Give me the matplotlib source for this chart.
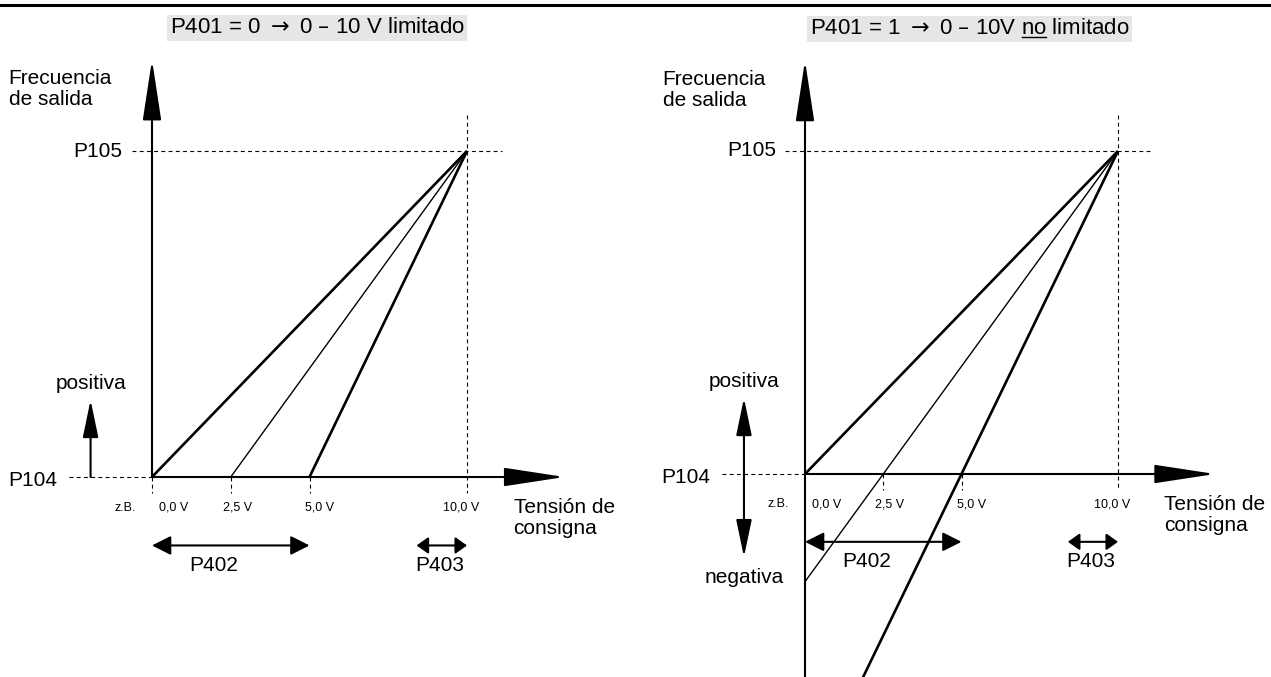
import matplotlib.pyplot as plt
import numpy as np
from matplotlib.lines import Line2D

plt.rcParams['font.family'] = ['Liberation Sans', 'DejaVu Sans']
plt.rcParams['mathtext.fontset'] = 'dejavusans'

# --- datos del esquema (tension en V, frecuencia normalizada: 0 = P104, 1 = P105) ---
offsets = [0.0, 2.5, 5.0]          # ejemplos de P402
v_max = 10.0                        # tension a la que se alcanza P105
tick_volts = [0.0, 2.5, 5.0, 10.0]
tick_labels = ['0,0 V', '2,5 V', '5,0 V', '10,0 V']
p402_span = [0.0, 5.0]
p403_span = [8.4, 10.0]
titles = [r'P401 = 0 $\rightarrow$ 0 – 10 V limitado', r'P401 = 1 $\rightarrow$ 0 – 10V no limitado']

# estilo
line_lw = [1.9, 1.0, 1.9]
label_dx = [0.7, 0.21, 0.33, -0.2]
W, H = 1271, 677
FS = 15
dash = (0, (3.5, 3))

fig = plt.figure(figsize=(W / 100, H / 100), dpi=100)
fig.add_artist(Line2D([0, 1], [1 - 5 / H] * 2, transform=fig.transFigure, color='k', lw=2.2))


def make_panel(left_px, right_px, x0, y0, sx, sy):
    ax = fig.add_axes([left_px / W, 0, (right_px - left_px) / W, 1])
    ax.set_xlim((left_px - x0) / sx, (right_px - x0) / sx)
    ax.set_ylim((y0 - H) / sy, y0 / sy)
    ax.axis('off')
    return ax


def arrow(ax, start, end, style, hl, hw, lw):
    ax.annotate('', xy=end, xytext=start,
                arrowprops=dict(arrowstyle=f'{style},head_length={hl},head_width={hw}',
                                mutation_scale=1, lw=lw, color='k', shrinkA=0, shrinkB=0))


def draw_panel(ax, title, limited):
    ybot = ax.get_ylim()[0]
    # ejes
    arrow(ax, (0, 0 if limited else ybot), (0, 1.28), '-|>', 38, 5.8, 1.5)
    arrow(ax, (0, 0), (13.1, 0), '-|>', 38, 5.8, 1.5)

    # lineas auxiliares
    ax.plot([-0.63, 11.1], [1, 1], color='k', lw=0.8, ls=dash)
    ax.plot([-2.65, 0], [0, 0], color='k', lw=0.8, ls=dash)
    ax.plot([v_max, v_max], [1.11, -0.048], color='k', lw=0.8, ls=dash)
    for v in tick_volts[:-1]:
        if limited or v != 0:
            ax.plot([v, v], [0, -0.048], color='k', lw=0.8, ls=dash)

    # rectas de consigna
    for o, lw in zip(offsets, line_lw):
        v = np.array([o if limited else 0.0, v_max])
        f = (v - o) / (v_max - o)
        ax.plot(v, f, color='k', lw=lw, solid_capstyle='butt')

    # textos
    t = ax.text(5.25, 1.378, title, ha='center', va='center', fontsize=16,
                bbox=dict(boxstyle='square,pad=0.12', fc='#e6e6e6', ec='none'))
    ax.text(-4.55, 1.19, 'Frecuencia\nde salida', ha='left', va='center', fontsize=FS, linespacing=1.12)
    ax.text(-0.93, 1.0, 'P105', ha='right', va='center', fontsize=FS)
    ax.text(-3.02, -0.012, 'P104', ha='right', va='center', fontsize=FS)
    ax.text(11.48, -0.126, 'Tensión de\nconsigna', ha='left', va='center', fontsize=FS, linespacing=1.12)
    ax.text(-0.85, -0.094, 'z.B.', ha='center', va='center', fontsize=9)
    for v, lab, dx in zip(tick_volts, tick_labels, label_dx):
        ax.text(v + dx, -0.094, lab, ha='center', va='center', fontsize=9)

    ax.text(-1.95, 0.287, 'positiva', ha='center', va='center', fontsize=FS)
    if limited:
        arrow(ax, (-1.95, 0), (-1.95, 0.236), '-|>', 23, 4.8, 1.5)
    else:
        arrow(ax, (-1.95, -0.257), (-1.95, 0.235), '<|-|>', 23, 4.8, 1.5)
        ax.text(-1.95, -0.319, 'negativa', ha='center', va='center', fontsize=FS)

    # rangos P402 / P403
    arrow(ax, (p402_span[0], -0.21), (p402_span[1], -0.21), '<|-|>', 11.5, 5.8, 1.5)
    ax.text(1.96, -0.27, 'P402', ha='center', va='center', fontsize=FS)
    arrow(ax, (p403_span[0], -0.21), (p403_span[1], -0.21), '<|-|>', 7, 5, 1.5)
    ax.text(9.12, -0.27, 'P403', ha='center', va='center', fontsize=FS)
    return t


ax1 = make_panel(0, 636, 152, 477, 31.5, 326)
ax2 = make_panel(636, 1271, 805, 474, 31.3, 323)
draw_panel(ax1, titles[0], True)
t2 = draw_panel(ax2, titles[1], False)

# subrayado de "no" en el titulo derecho
r = fig.canvas.get_renderer()
bb = t2.get_window_extent(r)
pre = titles[1][:titles[1].index(' no') + 3]
tmp = fig.text(0, 0, pre, fontsize=16)
w_pre = tmp.get_window_extent(r).width
tmp.set_text('no')
w_no = tmp.get_window_extent(r).width
tmp.remove()
x_end = bb.x0 + w_pre
y_ul = bb.y0 + 2
fig.add_artist(Line2D([(x_end - w_no) / W, x_end / W], [y_ul / H] * 2,
                      transform=fig.transFigure, color='k', lw=1.0))

fig.savefig('out.png', dpi=100)
